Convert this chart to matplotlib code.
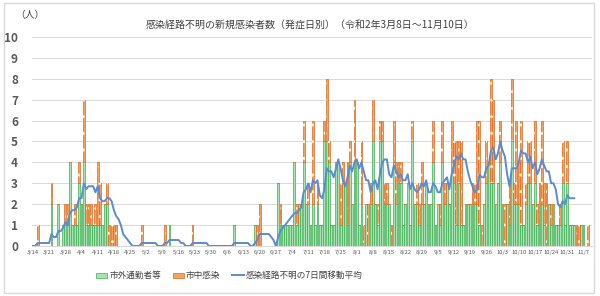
import matplotlib
matplotlib.use("Agg")
import matplotlib.pyplot as plt
from matplotlib.patches import Rectangle
import numpy as np
import pandas as pd

plt.rcParams['font.family'] = ['Noto Sans CJK JP', 'DejaVu Sans']
plt.rcParams['hatch.linewidth'] = 1.0

title = "感染経路不明の新規感染者数（発症日別）（令和2年3月8日～11月10日）"
legend_labels = ["市外通勤者等", "市中感染", "感染経路不明の7日間移動平均"]

dates = pd.date_range("2020-03-14", "2020-11-10")
avg_last = pd.Timestamp("2020-11-03")

# 市外通勤者等, one row per week from 3/14
green = [
    0, 0, 0, 0, 0, 0, 0,
    0, 2, 0, 0, 2, 0, 1,
    1, 1, 4, 1, 1, 1, 3,
    2, 4, 1, 1, 1, 1, 1,
    1, 1, 1, 2, 2, 0, 0,
    0, 0, 0, 0, 0, 0, 0,
    0, 0, 0, 0, 0, 0, 0,
    0, 0, 0, 0, 0, 0, 0,
    0, 0, 0, 1, 0, 0, 0,
    0, 0, 0, 0, 0, 0, 0,
    0, 0, 0, 0, 0, 0, 0,
    0, 0, 0, 0, 0, 0, 0,
    0, 0, 0, 1, 0, 0, 0,
    0, 0, 0, 0, 0, 1, 0,
    0, 0, 0, 0, 0, 0, 0,
    0, 3, 1, 1, 1, 1, 1,
    1, 4, 1, 2, 2, 4, 2,
    2, 1, 2, 1, 2, 1, 1,
    5, 5, 4, 1, 1, 4, 4,
    1, 3, 3, 1, 4, 2, 4,
    4, 1, 2, 0, 2, 0, 2,
    5, 2, 1, 5, 5, 2, 2,
    2, 0, 4, 2, 3, 3, 1,
    2, 3, 1, 5, 2, 2, 1,
    2, 2, 3, 2, 2, 4, 1,
    2, 1, 4, 2, 3, 2, 4,
    3, 1, 3, 1, 1, 2, 2,
    2, 2, 2, 2, 1, 0, 2,
    3, 4, 3, 3, 2, 3, 4,
    2, 0, 2, 1, 5, 2, 2,
    2, 1, 1, 2, 3, 3, 2,
    3, 1, 2, 2, 1, 0, 2,
    1, 2, 1, 1, 1, 3, 1,
    3, 1, 1, 1, 0, 0, 1,
    1, 0, 0, 0,
]

# 市中感染
orange = [
    0, 0, 1, 0, 0, 0, 0,
    0, 1, 0, 0, 0, 0, 0,
    1, 1, 0, 0, 1, 0, 1,
    0, 3, 1, 1, 1, 0, 1,
    3, 2, 0, 0, 1, 1, 1,
    1, 1, 0, 0, 0, 0, 0,
    0, 0, 0, 0, 0, 1, 0,
    0, 0, 0, 0, 0, 0, 0,
    0, 1, 0, 0, 0, 0, 0,
    0, 0, 0, 0, 0, 0, 1,
    0, 0, 0, 0, 0, 0, 0,
    0, 0, 0, 0, 0, 0, 0,
    0, 0, 0, 0, 0, 0, 0,
    0, 0, 0, 0, 0, 0, 1,
    2, 0, 0, 0, 0, 0, 0,
    0, 0, 1, 0, 0, 0, 0,
    0, 0, 1, 0, 0, 2, 0,
    1, 0, 4, 0, 1, 0, 0,
    1, 3, 1, 0, 0, 0, 0,
    2, 1, 0, 3, 1, 0, 3,
    0, 0, 3, 1, 0, 2, 1,
    2, 0, 1, 1, 1, 1, 1,
    0, 1, 2, 2, 1, 1, 0,
    0, 0, 0, 1, 0, 1, 1,
    2, 0, 0, 0, 0, 2, 0,
    0, 1, 2, 1, 0, 0, 2,
    2, 4, 2, 4, 0, 0, 0,
    0, 1, 1, 4, 5, 1, 0,
    2, 0, 5, 4, 0, 0, 2,
    0, 2, 0, 2, 3, 1, 4,
    2, 5, 0, 1, 2, 2, 0,
    3, 1, 1, 4, 2, 3, 0,
    1, 0, 0, 0, 1, 2, 0,
    2, 0, 0, 0, 1, 1, 0,
    0, 0, 1, 0,
]

green = np.array(green)
orange = np.array(orange)
total = green + orange
# 7-day moving average (days before 3/14 had no cases)
avg = np.convolve(total, np.ones(7) / 7)[:len(total)]
avg[dates > avg_last] = np.nan

x = np.arange(len(dates))
tick_idx = x[::7]
tick_labels = [f"{d.month}/{d.day}" for d in dates[::7]]

fig = plt.figure(figsize=(6, 2.96), dpi=100)
fig.patches.append(Rectangle((0.006, 0.01), 0.984, 0.98, transform=fig.transFigure,
                             fill=False, edgecolor="#d9d9d9", linewidth=1))
ax = fig.add_axes([0.053, 0.169, 0.933, 0.706])

g_bars = ax.bar(x, green, width=0.8, color="#a8e2b3", edgecolor="#3fae52", linewidth=0.5,
                label=legend_labels[0], zorder=2)
o_bars = ax.bar(x, orange, width=0.8, bottom=green, color="#f3a264", edgecolor="#e2661c",
                linewidth=0.5, label=legend_labels[1], zorder=2)
# dotted light pattern on top of the orange bars
ax.bar(x, orange, width=0.8, bottom=green, fill=False, edgecolor="#fff3c4",
       hatch="..", linewidth=0, zorder=2.5)
line, = ax.plot(x, avg, color="#5b8bd0", linewidth=1.4, label=legend_labels[2], zorder=3)

ax.set_xlim(-0.5, len(dates) - 0.5)
ax.set_ylim(0, 10)
ax.set_yticks(range(0, 11))
ax.tick_params(axis="y", labelsize=8.5, colors="#595959", length=0, pad=10)
ax.set_xticks(tick_idx)
ax.set_xticklabels(tick_labels, fontsize=4.2, color="#595959")
ax.tick_params(axis="x", length=0, pad=3)
for lab in ax.get_yticklabels():
    lab.set_fontweight("bold")
ax.grid(axis="y", color="#d9d9d9", linewidth=0.7, zorder=0)
for s in ["top", "right", "left"]:
    ax.spines[s].set_visible(False)
ax.spines["bottom"].set_color("#d9d9d9")

fig.text(0.517, 0.915, title, ha="center", va="center", fontsize=7.2, color="#404040")
fig.text(0.025, 0.95, "（人）", ha="left", va="center", fontsize=7, color="#404040")

fig.legend([g_bars, o_bars, line], legend_labels, loc="center",
           bbox_to_anchor=(0.382, 0.068), ncol=3, frameon=False,
           fontsize=6.2, handlelength=1.3, handleheight=0.6, columnspacing=1.4,
           handletextpad=0.2, labelcolor="#404040")

fig.savefig("out.png", dpi=100)
